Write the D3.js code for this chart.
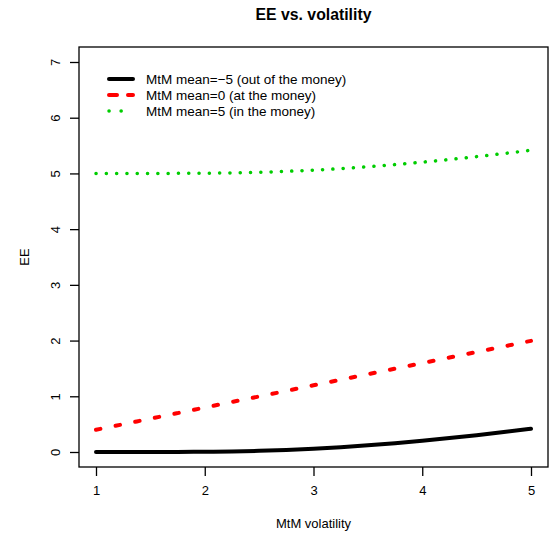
<!DOCTYPE html>
<html>
<head>
<meta charset="utf-8">
<script src="https://cdn.jsdelivr.net/npm/d3@7"></script>
<style>
  body { margin: 0; background: #fff; }
  svg text { font-family: "Liberation Sans", Arial, sans-serif; fill: #000; }
</style>
</head>
<body>
<svg id="chart"></svg>
<script>
// volatility grid and EE for each MtM mean
const volatility = [1, 1.25, 1.5, 1.75, 2, 2.25, 2.5, 2.75, 3, 3.25, 3.5, 3.75, 4, 4.25, 4.5, 4.75, 5];
const eeOut = [0, 0.0000, 0.0002, 0.0011, 0.004, 0.0104, 0.0212, 0.0377, 0.0593, 0.0866, 0.1202, 0.159, 0.2024, 0.25, 0.3016, 0.357, 0.4167];
const eeAt = [0.399, 0.499, 0.598, 0.698, 0.798, 0.898, 0.997, 1.097, 1.197, 1.297, 1.396, 1.496, 1.596, 1.695, 1.795, 1.895, 1.995];
const eeIn = [5.0, 5.0, 5.0002, 5.0011, 5.004, 5.0104, 5.0212, 5.0377, 5.0593, 5.0866, 5.1202, 5.159, 5.2024, 5.25, 5.3016, 5.357, 5.4167];
const seriesNames = ['MtM mean=\u22125 (out of the money)', 'MtM mean=0 (at the money)', 'MtM mean=5 (in the money)'];
const xTicks = [1, 2, 3, 4, 5];
const yTicks = [0, 1, 2, 3, 4, 5, 6, 7];

const width = 552, height = 533;
const box = { left: 79, right: 548, top: 47, bottom: 467 };

const svg = d3.select('#chart')
  .attr('width', width)
  .attr('height', height);

const x = d3.scaleLinear().domain([1, 5]).range([96, 531]);
const y = d3.scaleLinear().domain([0, 7]).range([452, 62]);

const styles = [
  { color: '#000000', dash: null, width: 4 },
  { color: '#ff0000', dash: '4.5,15.5', width: 4 },
  { color: '#00cd00', dash: '0.1,10.2', width: 3.5 }
];
const series = [eeOut, eeAt, eeIn];

// plot frame
svg.append('rect')
  .attr('x', box.left).attr('y', box.top)
  .attr('width', box.right - box.left).attr('height', box.bottom - box.top)
  .attr('fill', 'none').attr('stroke', '#000').attr('stroke-width', 1.3);

// x axis
const xAxis = svg.append('g')
  .attr('transform', `translate(0,${box.bottom})`)
  .call(d3.axisBottom(x).tickValues(xTicks).tickSize(9).tickPadding(10).tickFormat(d3.format('d')));
xAxis.select('.domain').remove();
xAxis.selectAll('line').attr('stroke', '#000').attr('stroke-width', 1.3);
xAxis.selectAll('text').style('font-size', '13px');

// y axis with rotated labels
const yAxis = svg.append('g')
  .attr('transform', `translate(${box.left},0)`)
  .call(d3.axisLeft(y).tickValues(yTicks).tickSize(9).tickFormat(d3.format('d')));
yAxis.select('.domain').remove();
yAxis.selectAll('line').attr('stroke', '#000').attr('stroke-width', 1.3);
yAxis.selectAll('text')
  .style('font-size', '13px')
  .attr('x', null).attr('dy', null)
  .attr('text-anchor', 'middle')
  .attr('transform', 'translate(-24,0) rotate(-90)')
  .attr('dy', '0.35em');

// curves
const line = d3.line()
  .x((d, i) => x(volatility[i]))
  .y(d => y(d))
  .curve(d3.curveMonotoneX);

series.forEach((s, i) => {
  svg.append('path')
    .datum(s)
    .attr('d', line)
    .attr('fill', 'none')
    .attr('stroke', styles[i].color)
    .attr('stroke-width', styles[i].width)
    .attr('stroke-linecap', 'round')
    .attr('stroke-dasharray', styles[i].dash);
});

// legend
const legend = svg.append('g');
seriesNames.forEach((name, i) => {
  const ly = 79 + i * 16;
  legend.append('line')
    .attr('x1', 109).attr('x2', 133)
    .attr('y1', ly).attr('y2', ly)
    .attr('stroke', styles[i].color)
    .attr('stroke-width', styles[i].width)
    .attr('stroke-linecap', 'round')
    .attr('stroke-dasharray', i === 1 ? '8,11' : i === 2 ? '0.1,12' : null);
  legend.append('text')
    .attr('x', 146).attr('y', ly)
    .attr('dy', '0.35em')
    .style('font-size', '13.5px')
    .text(name);
});

// titles
svg.append('text')
  .attr('x', (box.left + box.right) / 2).attr('y', 20)
  .attr('text-anchor', 'middle')
  .style('font-size', '15.8px').style('font-weight', 'bold')
  .text('EE vs. volatility');

svg.append('text')
  .attr('x', (box.left + box.right) / 2).attr('y', 528)
  .attr('text-anchor', 'middle')
  .style('font-size', '13px')
  .text('MtM volatility');

svg.append('text')
  .attr('transform', `translate(29,${(box.top + box.bottom) / 2}) rotate(-90)`)
  .attr('text-anchor', 'middle')
  .style('font-size', '13px')
  .text('EE');
</script>
</body>
</html>
